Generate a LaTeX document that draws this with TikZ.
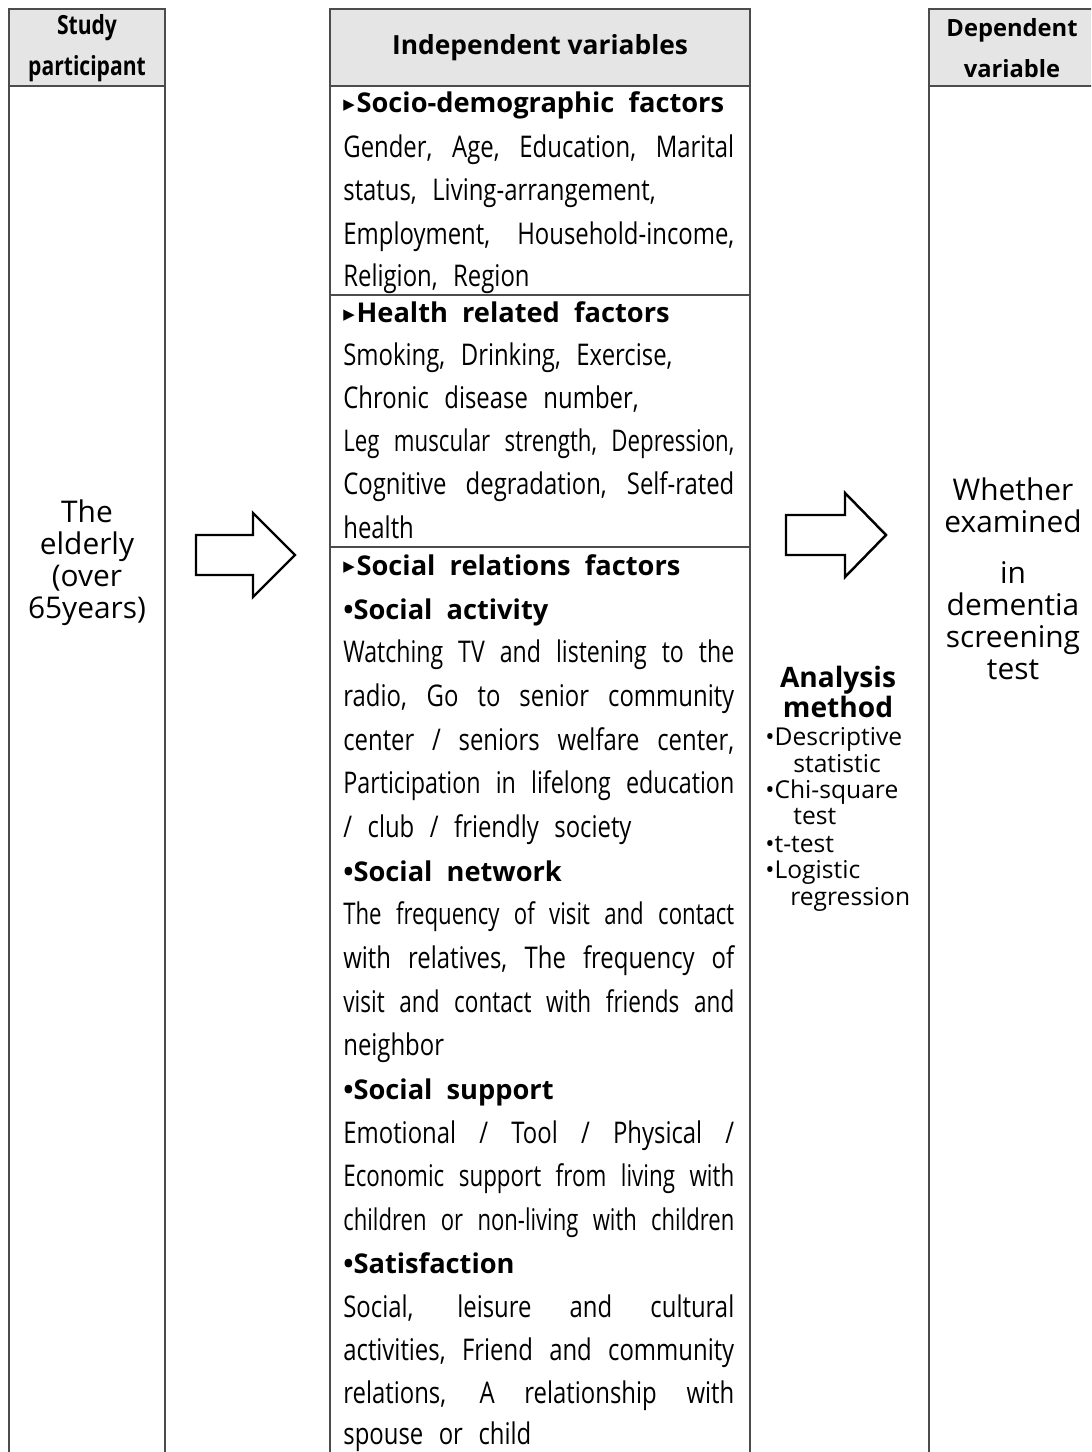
\documentclass[tikz,border=0pt]{standalone}
\usepackage{fontspec}
\usepackage{graphicx}
\setmainfont{Open Sans}[FakeStretch=0.8,WordSpace=2.5]
\newfontfamily\hfont{Open Sans}
\newfontfamily\trifont{DejaVu Sans}

%Width of the text column in the middle box
\newlength\colw
\setlength\colw{7.82cm}
\newlength\natw

%Justified line: spread the spaces, or squeeze it when too long
\newcommand\jline[1]{\settowidth\natw{#1}%
  \ifdim\natw>\colw\resizebox{\colw}{\height}{#1}\else\makebox[\colw][s]{#1}\fi}
\newcommand\tri{\raisebox{2.2pt}{\trifont\fontsize{8.5}{10}\selectfont ▶}\hspace{1pt}}

\begin{document}
\begin{tikzpicture}
[x=0.02cm,y=-0.02cm,
box/.style={draw=black!70,line width=0.6pt},
headfill/.style={fill=black!10},
txt/.style={anchor=base west,inner sep=0pt,font=\fontsize{17}{20}\selectfont},
sect/.style={anchor=base west,inner sep=0pt,font=\hfont\bfseries\fontsize{15.5}{18}\selectfont},
meth/.style={anchor=base west,inner sep=0pt,font=\hfont\fontsize{14}{16}\selectfont},
fatarrow/.style={draw,line width=1.4pt,line join=miter,fill=white},]

\useasboundingbox (0,0) rectangle (1091,1452);
\clip (0,0) rectangle (1091,1452);

%Header cells
\fill[headfill] (9,9) rectangle (165,86);
\fill[headfill] (330,9) rectangle (750,86);
\fill[headfill] (929,9) rectangle (1100,86);

%Columns, open at the bottom
\draw[box] (9,1460) |- (165,9) -- (165,1460);
\draw[box] (9,86) -- (165,86);
\draw[box] (330,1460) |- (750,9) -- (750,1460);
\draw[box] (330,86) -- (750,86);
\draw[box] (929,1460) |- (1100,9);
\draw[box] (929,86) -- (1100,86);

%Dividers between the factor groups
\draw[box] (330,295) -- (750,295);
\draw[box] (330,547) -- (750,547);

%Column titles
\node[align=center,font=\bfseries\fontsize{15}{23.5}\selectfont] (study) at (87,48) {Study\\participant};
\node[font=\hfont\bfseries\fontsize{15}{18}\selectfont] (indep) at (540,48) {Independent variables};
\node[align=center,font=\hfont\bfseries\fontsize{13.5}{23.5}\selectfont] (dep) at (1012,48) {Dependent\\variable};

%Participants and outcome
\node[align=center,font=\hfont\fontsize{17}{18.2}\selectfont] (elderly) at (87,563) {The\\elderly\\(over\\65years)};
\node[align=center,font=\hfont\fontsize{17}{18.2}\selectfont] (whether) at (1013,579) {Whether\\examined\\[0.38cm]in\\dementia\\screening\\test};

%Socio-demographic factors
\node[sect] (socio) at (343,113) {\tri Socio-demographic\ \ factors};
\node[txt] (s1a) at (343,158) {\jline{Gender, Age, Education, Marital}};
\node[txt] (s1b) at (343,201) {status, Living-arrangement,};
\node[txt] (s1c) at (343,245) {\jline{Employment, Household-income,}};
\node[txt] (s1d) at (343,287) {Religion, Region};

%Health related factors
\node[sect] (health) at (343,323) {\tri Health\ \ related\ \ factors};
\node[txt] (s2a) at (343,366) {Smoking, Drinking, Exercise,};
\node[txt] (s2b) at (343,409) {Chronic disease number,};
\node[txt] (s2c) at (343,452) {\jline{Leg muscular strength, Depression,}};
\node[txt] (s2d) at (343,495) {\jline{Cognitive degradation, Self-rated}};
\node[txt] (s2e) at (343,538) {health};

%Social relations factors
\node[sect] (social) at (343,575) {\tri Social\ \ relations\ \ factors};
\node[sect] (act) at (343,619) {•Social\ \ activity};
\node[txt] (s3a) at (343,662) {\jline{Watching TV and listening to the}};
\node[txt] (s3b) at (343,706) {\jline{radio, Go to senior community}};
\node[txt] (s3c) at (343,750) {\jline{center / seniors welfare center,}};
\node[txt] (s3d) at (343,793) {\jline{Participation in lifelong education}};
\node[txt] (s3e) at (343,837) {/ club / friendly society};
\node[sect] (net) at (343,881) {•Social\ \ network};
\node[txt] (s3f) at (343,924) {\jline{The frequency of visit and contact}};
\node[txt] (s3g) at (343,968) {\jline{with relatives, The frequency of}};
\node[txt] (s3h) at (343,1012) {\jline{visit and contact with friends and}};
\node[txt] (s3i) at (343,1055) {neighbor};
\node[sect] (sup) at (343,1099) {•Social\ \ support};
\node[txt] (s3j) at (343,1143) {\jline{Emotional / Tool / Physical /}};
\node[txt] (s3k) at (343,1186) {\jline{Economic support from living with}};
\node[txt] (s3l) at (343,1230) {\jline{children or non-living with children}};
\node[sect] (sat) at (343,1273) {•Satisfaction};
\node[txt] (s3m) at (343,1317) {\jline{Social, leisure and cultural}};
\node[txt] (s3n) at (343,1360) {\jline{activities, Friend and community}};
\node[txt] (s3o) at (343,1403) {\jline{relations, A relationship with}};
\node[txt] (s3p) at (343,1444) {spouse or child};

%Analysis method
\node[anchor=base,inner sep=0pt,font=\hfont\bfseries\fontsize{16}{18}\selectfont] (ana) at (838,687) {Analysis};
\node[anchor=base,inner sep=0pt,font=\hfont\bfseries\fontsize{16}{18}\selectfont] (meth) at (838,717) {method};
\node[meth] (m1) at (765,745) {•Descriptive};
\node[meth] (m1b) at (793,772) {statistic};
\node[meth] (m2) at (765,798) {•Chi-square};
\node[meth] (m2b) at (793,824) {test};
\node[meth] (m3) at (765,852) {•t-test};
\node[meth] (m4) at (765,878) {•Logistic};
\node[meth] (m4b) at (790,905) {regression};

%Block arrows
\draw[fatarrow] (196,535) -- ++(57,0) -- ++(0,-22) -- ++(42,42) -- ++(-42,42) -- ++(0,-22) -- ++(-57,0) -- cycle;
\draw[fatarrow] (786,515) -- ++(59,0) -- ++(0,-22) -- ++(41,42) -- ++(-41,42) -- ++(0,-22) -- ++(-59,0) -- cycle;

\end{tikzpicture}
\end{document}
